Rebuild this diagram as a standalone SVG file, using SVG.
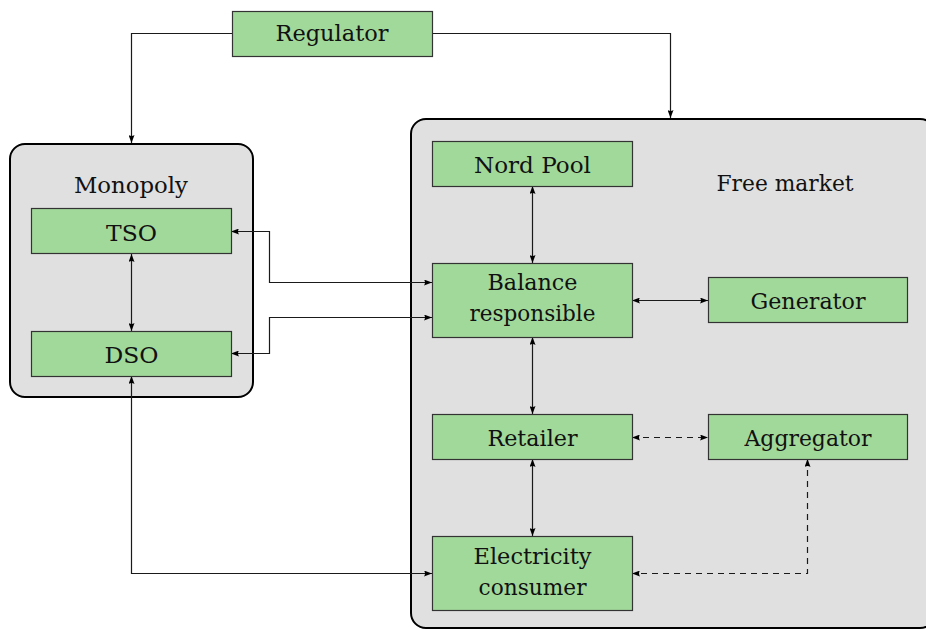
<svg xmlns="http://www.w3.org/2000/svg" width="926" height="629" viewBox="0 0 926 629">
  <style>
    .group { fill: #e0e0e0; stroke: #000; stroke-width: 2; }
    .node { fill: #a1d99b; stroke: #333; stroke-width: 1.2; }
    text { font-family: "DejaVu Serif", serif; font-size: 22px; fill: #111; text-anchor: middle; }
    .edge { fill: none; stroke: #1a1a1a; stroke-width: 1.2; marker-end: url(#tip); }
    .both { marker-start: url(#tip); }
    .dash { stroke-dasharray: 6 5; }
  </style>
  <defs>
    <marker id="tip" viewBox="0 0 8 6" refX="8" refY="3" markerWidth="8" markerHeight="6" markerUnits="userSpaceOnUse" orient="auto-start-reverse">
      <path d="M0,0 L8,3 L0,6 Q2,3 0,0 z" fill="#000"/>
    </marker>
  </defs>

  <!-- containers -->
  <g id="monopoly">
    <rect class="group" x="10" y="144" width="243" height="253" rx="15"/>
    <text x="131" y="193" textLength="114" lengthAdjust="spacingAndGlyphs">Monopoly</text>
  </g>
  <g id="free-market">
    <rect class="group" x="411" y="119" width="524" height="509" rx="15"/>
    <text x="785" y="191" textLength="137" lengthAdjust="spacingAndGlyphs">Free market</text>
  </g>

  <!-- connectors -->
  <g id="connectors">
    <path class="edge" d="M232,33.5 H131.5 V143"/>
    <path class="edge" d="M432,33.5 H670.5 V118"/>
    <path class="edge both" d="M231,231.5 H269.5 V282.5 H432"/>
    <path class="edge both" d="M231,353.5 H269.5 V317.5 H432"/>
    <path class="edge both" d="M131.5,254 V331"/>
    <path class="edge both" d="M131.5,376 V573.5 H432"/>
    <path class="edge both" d="M532.5,186 V263"/>
    <path class="edge both" d="M632,300.5 H708"/>
    <path class="edge both" d="M532.5,337 V414"/>
    <path class="edge both dash" d="M632,437.5 H708"/>
    <path class="edge both" d="M532.5,459 V536"/>
    <path class="edge both dash" d="M807.5,459 V573.5 H632"/>
  </g>

  <!-- nodes -->
  <g id="regulator">
    <rect class="node" x="232.5" y="11.5" width="200" height="45"/>
    <text x="332" y="41" textLength="113" lengthAdjust="spacingAndGlyphs">Regulator</text>
  </g>
  <g id="tso">
    <rect class="node" x="31.5" y="208.5" width="200" height="45"/>
    <text x="131.5" y="241" textLength="51" lengthAdjust="spacingAndGlyphs">TSO</text>
  </g>
  <g id="dso">
    <rect class="node" x="31.5" y="331.5" width="200" height="45"/>
    <text x="131.5" y="363" textLength="54" lengthAdjust="spacingAndGlyphs">DSO</text>
  </g>
  <g id="nord-pool">
    <rect class="node" x="432.5" y="141.5" width="200" height="45"/>
    <text x="532.5" y="173" textLength="117" lengthAdjust="spacingAndGlyphs">Nord Pool</text>
  </g>
  <g id="balance-responsible">
    <rect class="node" x="432.5" y="263.5" width="200" height="74"/>
    <text x="532.5" y="290" textLength="90" lengthAdjust="spacingAndGlyphs">Balance</text>
    <text x="532.5" y="321" textLength="126" lengthAdjust="spacingAndGlyphs">responsible</text>
  </g>
  <g id="generator">
    <rect class="node" x="708.5" y="277.5" width="199" height="45"/>
    <text x="808" y="309" textLength="115" lengthAdjust="spacingAndGlyphs">Generator</text>
  </g>
  <g id="retailer">
    <rect class="node" x="432.5" y="414.5" width="200" height="45"/>
    <text x="532.5" y="446" textLength="90" lengthAdjust="spacingAndGlyphs">Retailer</text>
  </g>
  <g id="aggregator">
    <rect class="node" x="708.5" y="414.5" width="199" height="45"/>
    <text x="808" y="446" textLength="127" lengthAdjust="spacingAndGlyphs">Aggregator</text>
  </g>
  <g id="electricity-consumer">
    <rect class="node" x="432.5" y="536.5" width="200" height="74"/>
    <text x="532.5" y="564" textLength="118" lengthAdjust="spacingAndGlyphs">Electricity</text>
    <text x="532.5" y="595" textLength="108" lengthAdjust="spacingAndGlyphs">consumer</text>
  </g>
</svg>
